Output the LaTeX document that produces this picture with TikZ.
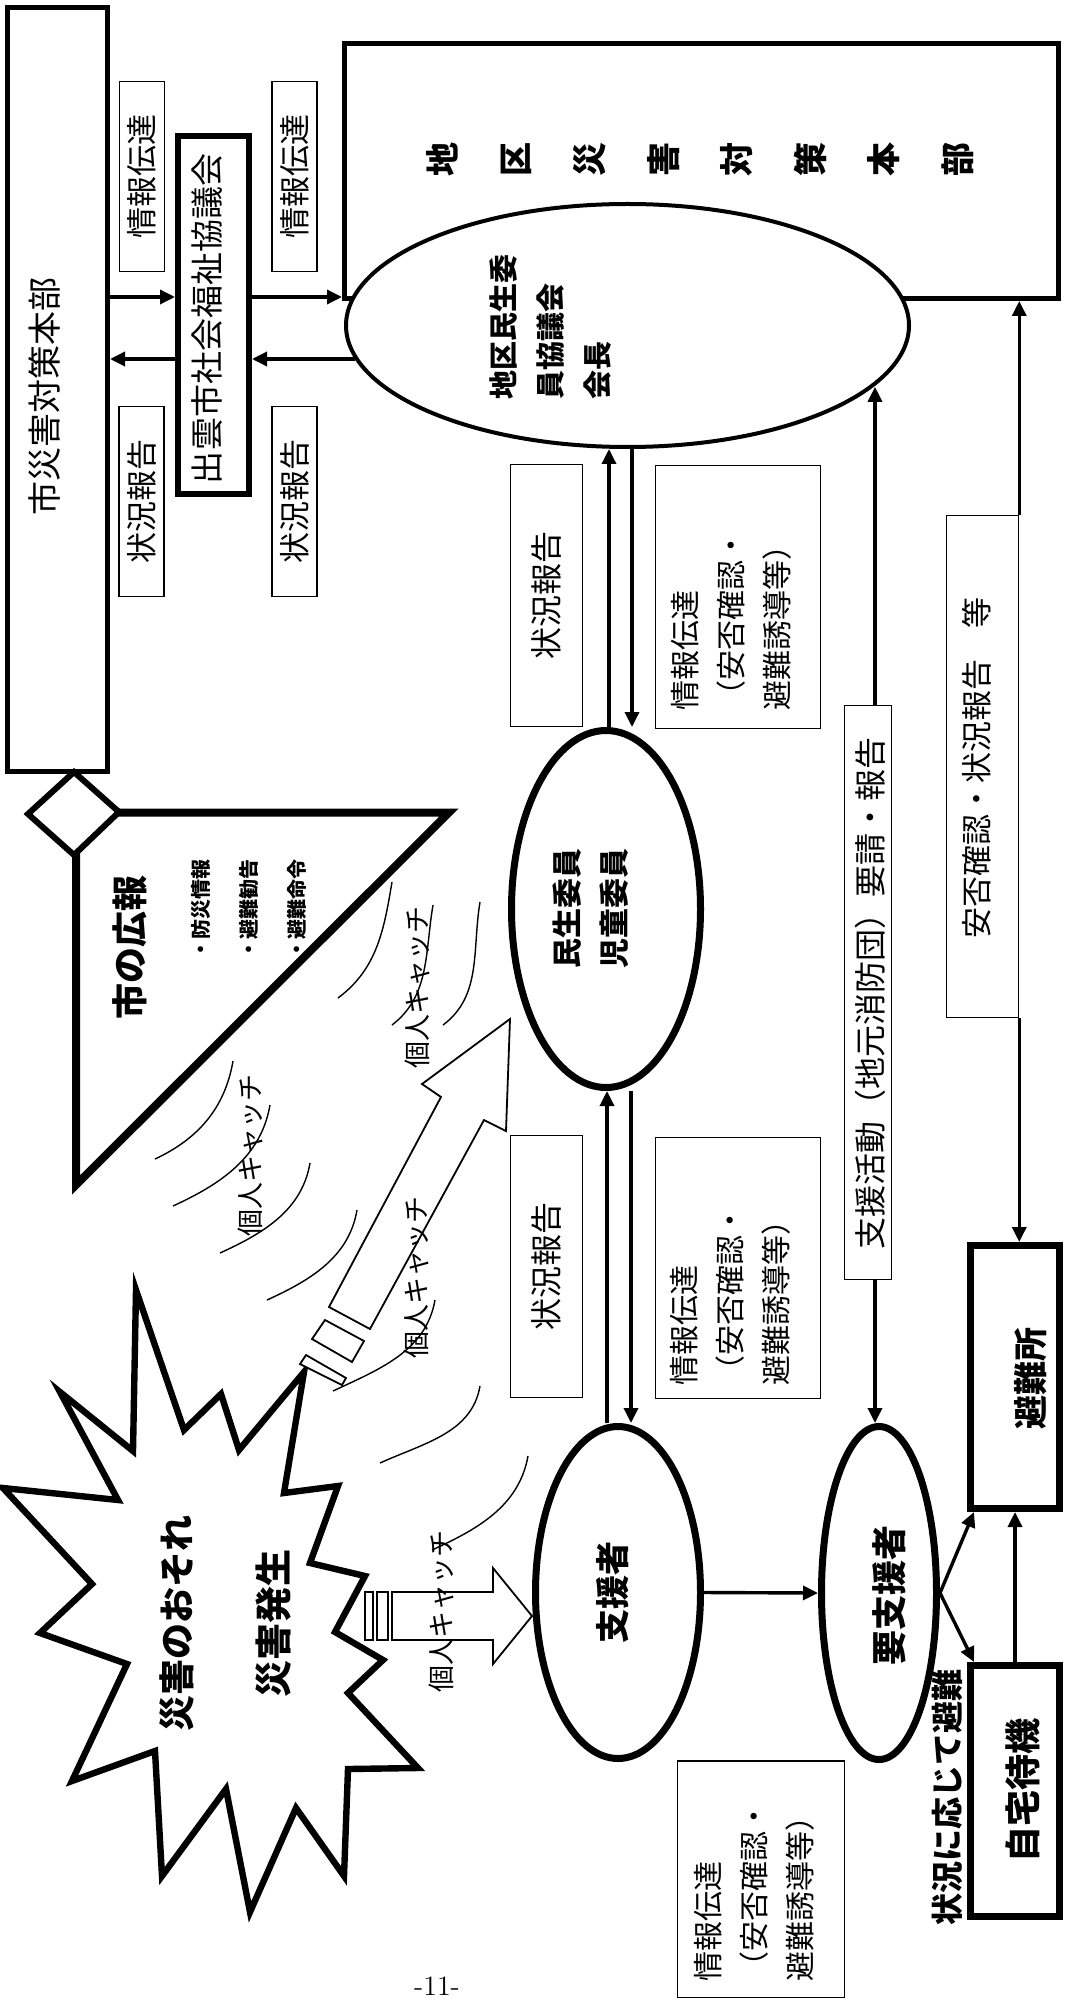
\documentclass[tikz,border=0pt]{standalone}
\usepackage{fontspec}
\newfontfamily\jp{Noto Sans CJK JP}
\usetikzlibrary{arrows.meta,calc,shapes.geometric}
\tikzset{
  thinbox/.style={draw, line width=0.75pt, fill=white, inner sep=0},
  tbox/.style={thinbox, rotate=90, font=\jp\fontsize{15.5}{18}\selectfont},
  ell/.style={draw, ellipse, inner sep=0, line width=3.5pt, fill=white},
  lbl/.style={rotate=90, inner sep=0, font=\jp\fontsize{15.5}{18}\selectfont},
  lblthree/.style={rotate=90, inner sep=0, anchor=west, align=left, font=\jp\fontsize{15}{23}\selectfont},
  arr/.style={line width=1.7pt, -{Triangle[length=7.5pt,width=7pt]}},
  wave/.style={line width=0.7pt},
  hollow/.style={draw, line width=0.9pt, fill=white, line join=miter},
  catch/.style={rotate=90, inner sep=0, font=\jp\fontsize{13.5}{16}\selectfont},
}
\begin{document}
\begin{tikzpicture}[x=0.5pt,y=-0.5pt]
\fill[white] (0,0) rectangle (1065,2000);
\useasboundingbox (0,0) rectangle (1065,2000);

% ---------- city HQ ----------
\node[draw, line width=2.5pt, minimum width=50pt, minimum height=382pt, inner sep=0] (cityhq) at (57.5,389.5) {};
\node[lbl, font=\jp\fontsize{17}{20}\selectfont] (cityhqt) at (45,397) {市災害対策本部};

\node[tbox, minimum width=95pt, minimum height=22.5pt] (jA) at (142,176.5) {情報伝達};
\node[tbox, minimum width=95pt, minimum height=22.5pt] (sA) at (141.5,501.5) {状況報告};
\node[tbox, minimum width=95pt, minimum height=22.5pt] (jB) at (294.5,176.5) {情報伝達};
\node[tbox, minimum width=95pt, minimum height=22.5pt] (sB) at (294.5,501.5) {状況報告};

\node[draw, line width=3pt, minimum width=35.5pt, minimum height=179pt, inner sep=0] (izumo) at (213.5,315) {};
\node[lbl, font=\jp\fontsize{16.5}{20}\selectfont] (izumot) at (207,319) {出雲市社会福祉協議会};

% ---------- district HQ ----------
\node[draw, line width=2.5pt, minimum width=357pt, minimum height=127.5pt, inner sep=0] (chikubox) at (701.5,171) {};
\node[lbl, align=center, font=\jp\bfseries\fontsize{17}{36.8}\selectfont] (chikut) at (700,160) {地\\区\\災\\害\\対\\策\\本\\部};
\node[ell, line width=2pt, minimum width=281.5pt, minimum height=121.5pt] (chikuell) at (627.5,325.5) {};
\node[lbl, anchor=west, align=left, font=\jp\bfseries\fontsize{14.5}{23.5}\selectfont] (chikuellt) at (550,400) {地区民生委\\員協議会\\会長};

\node[tbox, minimum width=131pt, minimum height=36pt, font=\jp\fontsize{16}{19}\selectfont] (sC) at (546.5,595.5) {状況報告};
\node[thinbox, minimum width=82.5pt, minimum height=131.5pt] (jD) at (738,597) {};
\node[lblthree] (jDt) at (731,711) {情報伝達\\（安否確認・\\避難誘導等）};

\node[thinbox, minimum width=23.5pt, minimum height=287pt] (yosei) at (868,992.5) {};
\node[lbl, font=\jp\fontsize{16}{19}\selectfont] (yoseit) at (870,993) {支援活動（地元消防団）要請・報告};

\node[thinbox, minimum width=36pt, minimum height=251pt] (anpi) at (982.5,766.5) {};
\node[lbl, font=\jp\fontsize{15.5}{19}\selectfont] (anpit) at (977,768) {安否確認・状況報告　等};

% ---------- committee members ----------
\node[ell, minimum width=94.5pt, minimum height=178.5pt] (minsei) at (606,909) {};
\node[lbl, align=left, font=\jp\bfseries\fontsize{15}{23.5}\selectfont] (minseit) at (591,908) {民生委員\\児童委員};

\node[tbox, minimum width=131pt, minimum height=36pt, font=\jp\fontsize{16}{19}\selectfont] (sE) at (546.5,1266.5) {状況報告};
\node[thinbox, minimum width=82.5pt, minimum height=130.5pt] (jF) at (738,1268) {};
\node[lblthree] (jFt) at (730,1386) {情報伝達\\（安否確認・\\避難誘導等）};

% ---------- supporters ----------
\node[ell, minimum width=82.5pt, minimum height=166pt] (shien) at (618,1592.5) {};
\node[lbl, font=\jp\bfseries\fontsize{17}{20}\selectfont] (shient) at (613,1592) {支援者};
\node[ell, minimum width=57.5pt, minimum height=166.5pt] (yoshien) at (879,1593) {};
\node[lbl, font=\jp\bfseries\fontsize{17.5}{20}\selectfont] (yoshient) at (889,1595) {要支援者};

\node[thinbox, minimum width=83.5pt, minimum height=118.25pt] (jG) at (761,1879) {};
\node[lblthree] (jGt) at (754,1982) {情報伝達\\（安否確認・\\避難誘導等）};

\node[draw, line width=3.5pt, minimum width=44.5pt, minimum height=131.5pt, inner sep=0] (hinanjo) at (1015,1377) {};
\node[lbl, font=\jp\bfseries\fontsize{17}{20}\selectfont] (hinanjot) at (1031,1378) {避難所};
\node[draw, line width=3.5pt, minimum width=44.5pt, minimum height=125.5pt, inner sep=0] (jitaku) at (1015,1791) {};
\node[lbl, font=\jp\bfseries\fontsize{18}{20}\selectfont] (jitakut) at (1023,1790) {自宅待機};
\node[lbl, font=\jp\bfseries\fontsize{16}{20}\selectfont] (jokyo) at (947,1797) {状況に応じて避難};

% ---------- city broadcast triangle ----------
\draw[line width=4pt, line join=miter] (76,812.5) -- (449,812.5) -- (76,1185) -- cycle;
\draw[line width=3pt, fill=white, line join=miter] (74,772) -- (119,812) -- (74,855) -- (28,814) -- cycle;
\node[lbl, font=\jp\bfseries\fontsize{18}{20}\selectfont] (koho) at (130,947) {市の広報};
\node[lbl, anchor=west, font=\jp\bfseries\fontsize{10}{12}\selectfont] (bul1) at (201,960) {・防災情報};
\node[lbl, anchor=west, font=\jp\bfseries\fontsize{10}{12}\selectfont] (bul2) at (249,960) {・避難勧告};
\node[lbl, anchor=west, font=\jp\bfseries\fontsize{10}{12}\selectfont] (bul3) at (297,960) {・避難命令};

% ---------- waves ----------
\draw[wave] (392,882) .. controls (384,930) and (377,969) .. (338,998);
\draw[wave] (433,905) .. controls (425,952) and (430,996) .. (392,1025);
\draw[wave] (480,902) .. controls (472,950) and (482,996) .. (443,1025);
\draw[wave] (233,1061) .. controls (225,1108) and (198,1139) .. (155,1159);
\draw[wave] (270,1105) .. controls (261,1157) and (221,1184) .. (173,1206);
\draw[wave] (310,1163) .. controls (302,1210) and (264,1233) .. (220,1253);
\draw[wave] (357,1210) .. controls (349,1257) and (311,1280) .. (267,1300);
\draw[wave] (435,1300) .. controls (426,1351) and (380,1369) .. (333,1391);
\draw[wave] (480,1386) .. controls (472,1433) and (424,1443) .. (380,1463);
\draw[wave] (528,1456) .. controls (519,1506) and (478,1529) .. (432,1550);

% ---------- starburst ----------
\draw[line width=3.2pt, line join=miter, fill=white]
 (304,1372) -- (284,1493) -- (338,1486) -- (310,1563) -- (365,1576) -- (335,1632) -- (383,1660) -- (348,1693)
 -- (418,1768) -- (348,1769) -- (344,1876) -- (296,1808) -- (250,1912) -- (226,1789) -- (162,1876) -- (155,1751)
 -- (72,1781) -- (127,1664) -- (40,1633) -- (92,1584) -- (3,1488) -- (118,1500) -- (60,1392) -- (133,1451)
 -- (136,1290) -- (184,1430) -- (221,1394) -- (239,1450) -- cycle;
\node[lbl, font=\jp\bfseries\fontsize{18}{20}\selectfont] (osore) at (177,1623) {災害のおそれ};
\node[lbl, font=\jp\bfseries\fontsize{18.5}{20}\selectfont] (hassei) at (274,1623) {災害発生};

% ---------- hollow arrows ----------
\draw[hollow] (329,1307) -- (441,1097) -- (422,1084) -- (510,1019) -- (506,1131) -- (484,1120) -- (370,1329) -- cycle;
\draw[hollow] (325,1320) -- (364,1341) -- (352,1362) -- (312,1339) -- cycle;
\draw[hollow] (306,1355) -- (346,1378) -- (342,1385) -- (300,1364) -- cycle;
\draw[hollow] (392,1592) -- (493,1592) -- (493,1568) -- (532,1616) -- (493,1664) -- (493,1640) -- (392,1640) -- cycle;
\draw[hollow] (365,1592) rectangle (373,1640);
\draw[hollow] (377,1592) rectangle (388,1640);

\node[catch] (c1) at (417,987) {個人キャッチ};
\node[catch] (c2) at (250,1155) {個人キャッチ};
\node[catch] (c3) at (416,1277) {個人キャッチ};
\node[catch] (c4) at (441,1611) {個人キャッチ};

% ---------- connectors ----------
\coordinate (yR) at (0,297);
\coordinate (xa) at (609,0);
\coordinate (xb) at (632,0);
\coordinate (xc) at (607,0);
\coordinate (xd) at (631,0);
\coordinate (xe) at (875,0);
\draw[arr] (cityhq.east |- yR) -- (izumo.west |- yR);
\draw[arr] (izumo.east |- yR) -- (chikubox.west |- yR);
\draw[arr] (chikuell.187) -- (izumo.east |- chikuell.187);
\draw[arr] (izumo.west |- chikuell.187) -- (cityhq.east |- chikuell.187);
\draw[arr] (minsei.north -| xa) -- (chikuell.south -| xa);
\draw[arr] (chikuell.south -| xb) -- (minsei.north -| xb);
\draw[arr] (shien.north -| xc) -- (minsei.south -| xc);
\draw[arr] (minsei.south -| xd) -- (shien.north -| xd);
\draw[arr] (yosei.north -| xe) -- (xe |- chikuell.346);
\draw[arr] (yosei.south -| xe) -- (yoshien.north -| xe);
\draw[arr] (anpi.north east) -- (anpi.north east |- chikubox.south);
\draw[arr] (anpi.south east) -- (anpi.south east |- hinanjo.north);
\draw[arr] (shien.east) -- (yoshien.west);
\draw[arr] (yoshien.east) -- ($(hinanjo.south west)+(7,0)$);
\draw[arr] (yoshien.east) -- ($(jitaku.north west)+(7,0)$);
\draw[arr] (jitaku.north) -- (hinanjo.south);

\node[font=\fontsize{14}{16}\selectfont, inner sep=0] (pnum) at (437,1986) {-11-};
\end{tikzpicture}
\end{document}
